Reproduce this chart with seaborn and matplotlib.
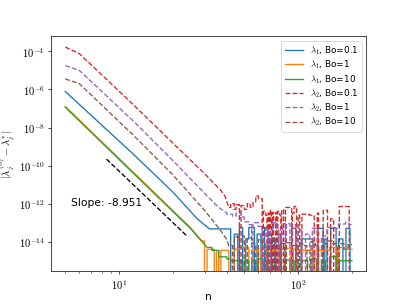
import numpy as np
import pandas as pd
import matplotlib
matplotlib.use("Agg")
import matplotlib.pyplot as plt
from matplotlib.ticker import FuncFormatter
import seaborn as sns

plt.rcParams['mathtext.fontset'] = 'cm'

# ---------------- data ----------------
# each series: smooth part (n, value) + noisy plateau runs (start n, value), ends at n=200
N_END = 200

blue_n = [5, 12, 20, 25, 27, 29, 32]
blue_v = [7.9e-7, 4.0e-10, 4.0e-12, 4.0e-13, 1.8e-13, 1.0e-13, 4.7e-14]
blue_run_n = [32, 42, 44, 46, 47, 49, 51, 53, 57, 59, 62, 65, 68, 71, 74, 78, 80, 92, 97,
              104, 121, 129, 138, 141, 145, 152, 163, 168, 178, 185, 195]
blue_run_v = [4.7e-14, 0, 2.5e-14, 0, 5.6e-14, 0, 1.4e-14, 5.6e-14, 0, 2.5e-14, 0, 5.6e-14, 0,
              1.4e-14, 0, 2.5e-14, 0, 5.0e-14, 0, 1.4e-14, 0, 5.0e-14, 0, 1.4e-14, 0, 5.0e-14,
              0, 1.4e-14, 0, 5.0e-14, 0]

orange_n = [5, 25, 29]
orange_v = [1.3e-7, 5.6e-14, 1.1e-14]
orange_run_n = [29, 30, 31, 34, 35, 36, 37, 41, 44, 47, 53, 56, 60, 62, 66, 70, 75, 78, 84, 91,
                94, 100, 121, 124, 150, 165, 168, 185]
orange_run_v = [1.1e-14, 0, 4.0e-15, 0, 3.5e-15, 0, 3.5e-15, 0, 4.0e-15, 5.0e-15, 0, 3.5e-15, 0,
                4.0e-15, 0, 3.5e-15, 0, 4.0e-15, 4.5e-15, 0, 4.0e-15, 3.5e-15, 0, 3.5e-15,
                5.0e-15, 0, 5.0e-15, 4.0e-15]

green_n = [5, 25, 31]
green_v = [1.17e-7, 5.0e-14, 5.0e-15]
green_run_n = [31, 33, 36, 40, 42, 48, 50, 53, 55, 58, 60, 64, 67, 72, 75, 80, 84, 90, 95, 100,
               104, 113, 118, 127, 135, 142, 150, 163, 170]
green_run_v = [5.0e-15, 3.5e-15, 1.6e-15, 1.25e-15, 1.0e-15, 0, 1.0e-15, 0, 1.0e-15, 0, 1.25e-15,
               0, 1.0e-15, 0, 1.0e-15, 0, 1.1e-15, 0, 1.0e-15, 0, 1.0e-15, 0, 1.25e-15, 0,
               1.0e-15, 0, 1.6e-15, 0, 1.0e-15]

red_n = [5, 6, 12, 20, 30, 37, 39, 41]
red_v = [1.7e-4, 7.6e-5, 1.6e-7, 1.5e-9, 3.8e-11, 5.0e-12, 2.5e-12, 6.3e-13]
red_run_n = [41, 42, 44, 45, 47, 48, 50, 52, 54, 56, 58, 60, 63, 64, 66, 67, 68, 69, 70, 71, 72,
             73, 75, 76, 77, 79, 80, 81, 83, 85, 92, 93, 95, 98, 100, 102, 105, 115, 123, 128,
             130, 138, 146, 152, 158, 170, 193]
red_run_v = [6.3e-13, 1.0e-12, 5.0e-13, 8.9e-13, 0, 7.9e-13, 5.0e-13, 1.0e-12, 6.3e-13, 1.26e-12,
             2.5e-12, 1.8e-12, 0, 4.0e-13, 2.5e-13, 0, 3.2e-13, 0, 4.5e-13, 0, 3.5e-13, 0,
             3.5e-13, 0, 4.0e-13, 2.5e-13, 0, 5.0e-13, 0, 6.3e-13, 0, 3.2e-13, 7.1e-13, 0,
             2.5e-13, 0, 2.8e-13, 2.5e-13, 0, 3.2e-13, 0, 4.5e-13, 0, 1.6e-13, 0, 7.1e-13, 0]

purple_n = [5, 6, 12, 20, 30, 36, 40]
purple_v = [1.8e-5, 1.0e-5, 2.2e-8, 1.8e-10, 3.5e-12, 6.3e-13, 3.2e-13]
purple_run_n = [40, 43, 45, 48, 50, 53, 55, 56, 60, 63, 64, 66, 68, 70, 72, 76, 78, 80, 82, 85,
                86, 90, 92, 97, 100, 105, 110, 116, 120, 128, 135, 145, 160, 168, 184, 192]
purple_run_v = [2.8e-13, 2.2e-13, 3.2e-13, 2.0e-13, 1.1e-13, 7.9e-14, 0, 1.0e-13, 6.3e-14, 0,
                2.0e-14, 5.0e-14, 0, 3.2e-14, 1.0e-13, 5.0e-14, 0, 2.5e-14, 8.9e-14, 0,
                8.9e-14, 0, 7.9e-14, 0, 4.0e-14, 0, 2.5e-14, 0, 5.0e-14, 0, 2.0e-14, 5.6e-14,
                5.0e-14, 8.5e-14, 1.0e-13, 7.9e-14]

brown_n = [5, 6, 12, 20, 30, 37, 40, 41]
brown_v = [3.6e-6, 2.0e-6, 4.0e-9, 3.2e-11, 4.5e-13, 3.8e-14, 1.26e-14, 6.3e-15]
brown_run_n = [41, 43, 44, 47, 50, 52, 55, 58, 60, 63, 66, 68, 72, 75, 79, 84, 86, 92, 97, 100,
               106, 112, 118, 125, 130, 137, 145, 155, 165, 170, 180, 190]
brown_run_v = [6.3e-15, 0, 1.8e-14, 2.0e-14, 0, 1.6e-14, 7.9e-15, 0, 1.26e-14, 7.9e-15, 0,
               7.9e-15, 1.6e-14, 0, 7.9e-15, 0, 8.9e-15, 6.3e-15, 0, 7.9e-15, 6.3e-15, 0,
               1.0e-14, 6.3e-15, 0, 7.9e-15, 1.1e-14, 7.9e-15, 0, 7.9e-15, 4.0e-15, 7.1e-15]

slope_n = [8.5, 24.2]
slope_v = [2.2e-10, 1.8e-14]
slope_text = "Slope: -8.951"
slope_text_pos = (5.4, 1.1e-12)

labels = [r"$\lambda_1$, Bo=0.1", r"$\lambda_1$, Bo=1", r"$\lambda_1$, Bo=10",
          r"$\lambda_2$, Bo=0.1", r"$\lambda_2$, Bo=1", r"$\lambda_2$, Bo=10"]
colors = ["#1f77b4", "#ff7f0e", "#2ca02c", "#d62728", "#9467bd", "#8c564b"]
styles = ["-", "-", "-", "--", "--", "--"]


def build(sm_n, sm_v, run_n, run_v, end=N_END):
    xs = list(sm_n)
    ys = list(sm_v)
    bounds = list(run_n[1:]) + [end]
    for s, e, v in zip(run_n, bounds, run_v):
        xs += [s, e]
        ys += [v, v]
    return xs, ys


series = [
    build(blue_n, blue_v, blue_run_n, blue_run_v),
    build(orange_n, orange_v, orange_run_n, orange_run_v),
    build(green_n, green_v, green_run_n, green_run_v),
    build(red_n, red_v, red_run_n, red_run_v),
    build(purple_n, purple_v, purple_run_n, purple_run_v),
    build(brown_n, brown_v, brown_run_n, brown_run_v),
]

fig, ax = plt.subplots(figsize=(6.4, 4.8), dpi=63.6)
for (xs, ys), lab, col, ls in zip(series, labels, colors, styles):
    df = pd.DataFrame({"n": xs, "err": ys})
    sns.lineplot(data=df, x="n", y="err", ax=ax, sort=False, estimator=None,
                 color=col, linestyle=ls, label=lab, linewidth=1.5)

sns.lineplot(x=slope_n, y=slope_v, ax=ax, color="black", linestyle="--",
             estimator=None, sort=False, linewidth=1.5)
ax.set_xscale("log")
ax.set_yscale("log")


def decade_fmt(v, pos):
    return r"$10^{%d}$" % int(round(np.log10(v)))


ax.xaxis.set_major_formatter(FuncFormatter(decade_fmt))
ax.yaxis.set_major_formatter(FuncFormatter(decade_fmt))
ax.tick_params(axis="both", which="major", labelsize=12)
ax.text(slope_text_pos[0], slope_text_pos[1], slope_text, fontsize=12, va="center", ha="left")

ax.set_xlabel("n", fontsize=12, labelpad=0)
ax.set_ylabel(r"$|\lambda_j^{(n)} - \lambda_j^{*}|$", fontsize=12)
ax.yaxis.set_label_coords(-0.11, 0.5)
ax.legend(loc="upper right", labelspacing=0.2)

fig.savefig("out.png", dpi=63.6)
